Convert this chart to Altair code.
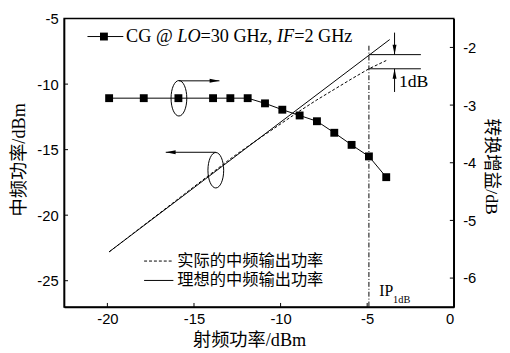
import altair as alt
import pandas as pd

# ---------------- data ----------------
# conversion gain (right axis)
cg_rf = [-19.9, -17.9, -15.9, -13.9, -12.9, -11.9, -10.9, -9.9, -8.9, -7.9, -6.9, -5.9, -4.9, -3.9]
cg_gain = [-2.88, -2.88, -2.88, -2.88, -2.88, -2.88, -2.97, -3.08, -3.18, -3.28, -3.48, -3.69, -3.89, -4.25]

# ideal IF output power (left axis)
ideal_rf = [-19.9, -3.7]
ideal_if = [-22.8, -6.6]

# actual IF output power (left axis)
actual_rf = [-19.9, -12.9, -11.9, -10.9, -9.9, -8.9, -7.9, -6.9, -5.9, -4.9, -3.9]
actual_if = [-22.8, -15.7, -14.75, -13.85, -12.95, -12.05, -11.2, -10.4, -9.6, -8.83, -8.2]

x_ticks = [-20, -15, -10, -5, 0]
left_ticks = [-25, -20, -15, -10, -5]
right_ticks = [-6, -5, -4, -3, -2]

ip1db = -4.9
ip_ideal = -7.75
ip_actual = -8.83

legend_texts = ["实际的中频输出功率", "理想的中频输出功率"]
cg_label_parts = ["CG @ ", "LO", "=30 GHz, ", "IF", "=2 GHz"]
cg_label_italic = [False, True, False, True, False]

W, H = 396, 293
BLACK = "black"
SERIF = "Liberation Serif, 'Noto Sans CJK SC'"
CJK = "'Noto Sans CJK SC'"
SANS = "Liberation Sans"

xscale = alt.Scale(domain=[-22.5, 0], nice=False, zero=False)
lscale = alt.Scale(domain=[-27, -5], nice=False, zero=False)
rscale = alt.Scale(domain=[-6.5, -1.5], nice=False, zero=False)

label_expr = "datum.value + ''"
common_axis = dict(
    domainColor=BLACK, domainWidth=1.5, ticks=False, grid=False,
    labelFont=SANS, labelFontSize=15, labelColor=BLACK,
    titleFont=SERIF, titleColor=BLACK, titleFontWeight="normal",
    labelExpr=label_expr,
)
xaxis = alt.Axis(values=x_ticks, title="射频功率/dBm", titleFontSize=18.5,
                 labelPadding=5, titleX=188, titleY=33, titleBaseline="middle", **common_axis)
laxis = alt.Axis(orient="left", values=left_ticks, title="中频功率/dBm", titleFontSize=18.5,
                 labelPadding=6, titleAngle=270, titleX=-46, titleY=143,
                 titleAlign="center", titleBaseline="middle", **common_axis)
raxis = alt.Axis(orient="right", values=right_ticks, title="转换增益/dB", titleFontSize=18,
                 labelPadding=9, titleAngle=90, titleX=37, titleY=150,
                 titleAlign="center", titleBaseline="middle", **common_axis)


def X(f):
    return alt.X(f, type="quantitative", scale=xscale, axis=xaxis)


def YL(f):
    return alt.Y(f, type="quantitative", scale=lscale, axis=laxis)


def YR(f):
    return alt.Y(f, type="quantitative", scale=rscale, axis=raxis)


# ---------------- left-axis layers ----------------
ideal_df = pd.DataFrame({"x": ideal_rf, "y": ideal_if})
actual_df = pd.DataFrame({"x": actual_rf, "y": actual_if})

ideal_line = alt.Chart(ideal_df).mark_line(color=BLACK, strokeWidth=1).encode(x=X("x"), y=YL("y"))
actual_line = alt.Chart(actual_df).mark_line(color=BLACK, strokeWidth=1, strokeDash=[3, 2]).encode(
    x=X("x"), y=YL("y"))

vline = alt.Chart(pd.DataFrame({"x": [ip1db], "y": [-7.07], "y2": [-27]})).mark_rule(
    color=BLACK, strokeWidth=1, strokeDash=[5, 2, 1, 2]).encode(x=X("x"), y=YL("y"), y2="y2")

hlines = alt.Chart(pd.DataFrame({"x": [ip1db, ip1db], "x2": [-1.9, -1.9], "y": [ip_ideal, ip_actual]})).mark_rule(
    color=BLACK, strokeWidth=1).encode(x=X("x"), x2="x2", y=YL("y"))

# arrow shafts (vertical)
vshafts = alt.Chart(pd.DataFrame({"x": [-3.42, -3.42], "y": [-6.07, -10.6], "y2": [ip_ideal, ip_actual]})).mark_rule(
    color=BLACK, strokeWidth=1).encode(x=X("x"), y=YL("y"), y2="y2")
# arrow shafts (horizontal, from ellipses)
hshafts = alt.Chart(pd.DataFrame({"x": [-15.87, -13.74], "x2": [-13.53, -16.63], "y": [-9.75, -15.2]})).mark_rule(
    color=BLACK, strokeWidth=1).encode(x=X("x"), x2="x2", y=YL("y"))

arrow_shape = "M0,0L-4,-0.8L-4,0.8Z"
heads = alt.Chart(pd.DataFrame({
    "x": [-3.42, -3.42, -13.53, -16.63],
    "y": [ip_ideal, ip_actual, -9.75, -15.2],
    "a": [90, 270, 0, 180],
})).mark_point(shape=arrow_shape, size=25, filled=True, color=BLACK, opacity=1, strokeWidth=0).encode(
    x=X("x"), y=YL("y"), angle=alt.Angle("a:Q", scale=None))

ellipse_shape = "M0,-1A0.444,1,0,1,1,0,1A0.444,1,0,1,1,0,-1Z"
ellipses = alt.Chart(pd.DataFrame({"x": [-15.87, -13.74], "y": [-11.08, -16.57]})).mark_point(
    shape=ellipse_shape, size=1300, filled=False, color=BLACK, opacity=1, strokeWidth=1).encode(
    x=X("x"), y=YL("y"))

# bottom legend
leg_y = [-23.5, -24.98]
leg_lines = alt.Chart(pd.DataFrame({"x": [-17.88, -17.88], "x2": [-16.19, -16.19], "y": leg_y,
                                    "k": ["d", "s"]}))
leg_dash = leg_lines.transform_filter("datum.k == 'd'").mark_rule(
    color=BLACK, strokeWidth=1, strokeDash=[3, 2]).encode(x=X("x"), x2="x2", y=YL("y"))
leg_solid = leg_lines.transform_filter("datum.k == 's'").mark_rule(
    color=BLACK, strokeWidth=1).encode(x=X("x"), x2="x2", y=YL("y"))
leg_text = alt.Chart(pd.DataFrame({"x": [-15.96, -15.96], "y": leg_y, "t": legend_texts})).mark_text(
    align="left", baseline="middle", font=CJK, fontSize=16.5, color=BLACK).encode(
    x=X("x"), y=YL("y"), text="t:N")

# top legend (CG)
cg_leg_line = alt.Chart(pd.DataFrame({"x": [-21.15], "x2": [-19.08], "y": [-6.37]})).mark_rule(
    color=BLACK, strokeWidth=1).encode(x=X("x"), x2="x2", y=YL("y"))
cg_leg_mark = alt.Chart(pd.DataFrame({"x": [-20.2], "y": [-6.37]})).mark_point(
    shape="square", size=64, filled=True, color=BLACK, opacity=1).encode(x=X("x"), y=YL("y"))

cg_offsets = [0, 52, 75.6, 153.3, 170.8]
cg_texts = []
for part, ital, off in zip(cg_label_parts, cg_label_italic, cg_offsets):
    cg_texts.append(
        alt.Chart(pd.DataFrame({"x": [-18.92], "y": [-6.37], "t": [part]})).mark_text(
            align="left", baseline="middle", font=SERIF, fontSize=18.5, color=BLACK,
            fontStyle="italic" if ital else "normal", dx=off).encode(x=X("x"), y=YL("y"), text="t:N"))

one_db = alt.Chart(pd.DataFrame({"x": [-3.17], "y": [-9.82], "t": ["1dB"]})).mark_text(
    align="left", baseline="middle", font=SERIF, fontSize=18, color=BLACK).encode(
    x=X("x"), y=YL("y"), text="t:N")
ip_main = alt.Chart(pd.DataFrame({"x": [-4.3], "y": [-26.18], "t": ["IP"]})).mark_text(
    align="left", baseline="alphabetic", font=SERIF, fontSize=16, color=BLACK).encode(
    x=X("x"), y=YL("y"), text="t:N")
ip_sub = alt.Chart(pd.DataFrame({"x": [-4.3], "y": [-26.18], "t": ["1dB"]})).mark_text(
    align="left", baseline="alphabetic", font=SERIF, fontSize=10.5, color=BLACK, dx=14, dy=7).encode(
    x=X("x"), y=YL("y"), text="t:N")

# inward tick marks
xt = alt.Chart(pd.DataFrame({"x": x_ticks[:-1]})).mark_rule(color=BLACK, strokeWidth=1).encode(
    x=X("x"), y=alt.value(H), y2=alt.value(H - 4))
lt = alt.Chart(pd.DataFrame({"y": left_ticks[:-1]})).mark_rule(color=BLACK, strokeWidth=1).encode(
    y=YL("y"), x=alt.value(0), x2=alt.value(4))

left_group = alt.layer(
    ideal_line, actual_line, vline, hlines, vshafts, hshafts, heads, ellipses,
    leg_dash, leg_solid, leg_text, cg_leg_line, cg_leg_mark, *cg_texts, one_db, ip_main, ip_sub, xt, lt,
)

# ---------------- right-axis layers ----------------
cg_df = pd.DataFrame({"x": cg_rf, "y": cg_gain})
cg_line = alt.Chart(cg_df).mark_line(color=BLACK, strokeWidth=1).encode(x=X("x"), y=YR("y"))
cg_pts = alt.Chart(cg_df).mark_point(shape="square", size=64, filled=True, color=BLACK, opacity=1).encode(
    x=X("x"), y=YR("y"))
rt = alt.Chart(pd.DataFrame({"y": right_ticks})).mark_rule(color=BLACK, strokeWidth=1).encode(
    y=YR("y"), x=alt.value(W), x2=alt.value(W - 4))

right_group = alt.layer(cg_line, cg_pts, rt)

chart = alt.layer(left_group, right_group).resolve_scale(y="independent").properties(
    width=W, height=H,
    background="white",
    autosize=alt.AutoSizeParams(type="none"),
    padding={"left": 57, "top": 8, "right": 49, "bottom": 40},
).configure_view(stroke=BLACK, strokeWidth=1.5)

chart.save("out.html", embed_options={"renderer": "svg", "actions": False})
